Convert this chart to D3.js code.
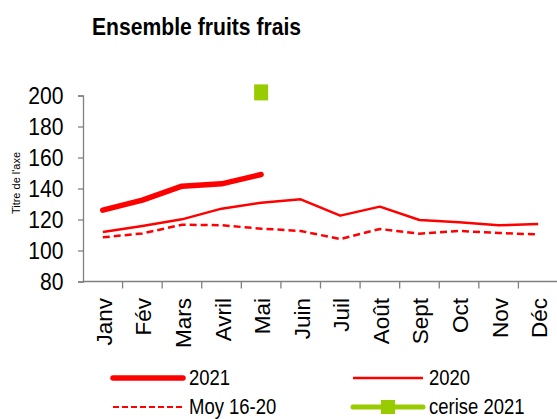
<!DOCTYPE html>
<html><head><meta charset="utf-8">
<script src="https://cdn.jsdelivr.net/npm/d3@7"></script>
<style>body{margin:0;background:#fff}svg{display:block}text{font-family:"Liberation Sans",Arial,sans-serif}</style>
</head><body><svg id="c" width="557" height="419"></svg>
<script>
const months = ["Janv","Fév","Mars","Avril","Mai","Juin","Juil","Août","Sept","Oct","Nov","Déc"];
const s2021 = [126, 132.5, 141.5, 143, 149, null, null, null, null, null, null, null];
const s2020 = [112, 115.8, 120.1, 127, 130.8, 133, 122.5, 128.3, 119.7, 118.2, 116.3, 117.1];
const moy = [108.5, 111, 116.6, 116.3, 114.1, 112.6, 107.4, 113.9, 110.8, 112.6, 111.3, 110.4];
const cerise2021 = [null, null, null, null, 202, null, null, null, null, null, null, null];
const yTicks = [80, 100, 120, 140, 160, 180, 200];
const title = "Ensemble fruits frais";
const yTitle = "Titre de l'axe";
const legendItems = ["2021", "2020", "Moy 16-20", "cerise 2021"];

const svg = d3.select("#c");
const x = d3.scaleBand().domain(months).range([83, 558]);
const y = d3.scaleLinear().domain([80, 200]).range([281.5, 95.5]);
const red = "#ff0000", green = "#99cc00", axisCol = "#808080";

svg.append("text").attr("transform", "translate(92,35) scale(0.92,1)").attr("font-size", 23).attr("font-weight", "bold").text(title);

// Y axis
const ya = svg.append("g").attr("transform", "translate(83,0)").call(d3.axisLeft(y).tickValues(yTicks).tickSize(5).tickPadding(0));
ya.select(".domain").attr("stroke", axisCol).attr("stroke-width", 1.3);
ya.selectAll(".tick line").attr("stroke", axisCol).attr("stroke-width", 1.3);
ya.selectAll(".tick text").attr("x", null).attr("dy", null).attr("y", 8)
  .attr("transform", "translate(-19.5,0) scale(0.92,1)")
  .attr("font-size", 23).attr("fill", "#000").attr("font-family", "Liberation Sans, Arial, sans-serif");

svg.append("text").attr("transform", "translate(20,183) rotate(-90)").attr("text-anchor", "middle").attr("font-size", 11).text(yTitle);

// X axis
const xa = svg.append("g").attr("transform", `translate(0,${y(80)})`);
xa.append("line").attr("x1", 83).attr("x2", 557).attr("y1", 0).attr("y2", 0).attr("stroke", axisCol).attr("stroke-width", 1.3);
xa.selectAll("line.tk").data(months.slice(1)).join("line").attr("class", "tk")
  .attr("x1", d => x(d)).attr("x2", d => x(d)).attr("y1", 0).attr("y2", 7).attr("stroke", axisCol).attr("stroke-width", 1.3);
xa.selectAll("text").data(months).join("text")
  .attr("transform", d => `translate(${x(d) + x.bandwidth() / 2 + 9},16.5) rotate(-90)`)
  .attr("text-anchor", "end").attr("font-size", 22.5).text(d => d);

const cx = d => x(d) + x.bandwidth() / 2;
const line = d3.line().defined(d => d.v != null).x(d => cx(d.m)).y(d => y(d.v));
const toPts = arr => months.map((m, i) => ({ m, v: arr[i] }));

svg.append("path").datum(toPts(moy)).attr("d", line).attr("fill", "none").attr("stroke", red).attr("stroke-width", 2.5).attr("stroke-dasharray", "7,4");
svg.append("path").datum(toPts(s2020)).attr("d", line).attr("fill", "none").attr("stroke", red).attr("stroke-width", 2.5).attr("stroke-linejoin", "round");
svg.append("path").datum(toPts(s2021)).attr("d", line).attr("fill", "none").attr("stroke", red).attr("stroke-width", 5.5).attr("stroke-linecap", "round").attr("stroke-linejoin", "round");
svg.selectAll("rect.cer").data(toPts(cerise2021).filter(d => d.v != null)).join("rect").attr("class", "cer")
  .attr("x", d => cx(d.m) - 7).attr("y", d => y(d.v) - 8).attr("width", 14).attr("height", 16).attr("fill", green);

// Legend
const lg = [
  { t: legendItems[0], x: 113, y: 378, w: 5.5, dash: null, col: red },
  { t: legendItems[1], x: 353, y: 378, w: 2.5, dash: null, col: red },
  { t: legendItems[2], x: 113, y: 407, w: 2, dash: "6,3", col: red },
  { t: legendItems[3], x: 353, y: 407, w: 5, dash: null, col: green, mark: true }
];
lg.forEach(d => {
  svg.append("line").attr("x1", d.x).attr("x2", d.x + 70).attr("y1", d.y).attr("y2", d.y)
    .attr("stroke", d.col).attr("stroke-width", d.w).attr("stroke-dasharray", d.dash).attr("stroke-linecap", d.w > 4 ? "round" : "butt");
  if (d.mark) svg.append("rect").attr("x", d.x + 28).attr("y", d.y - 7).attr("width", 14).attr("height", 14).attr("fill", green);
  svg.append("text").attr("transform", `translate(${d.x + 76},${d.y + 7}) scale(0.86,1)`).attr("font-size", 21.5).text(d.t);
});
</script></body></html>
